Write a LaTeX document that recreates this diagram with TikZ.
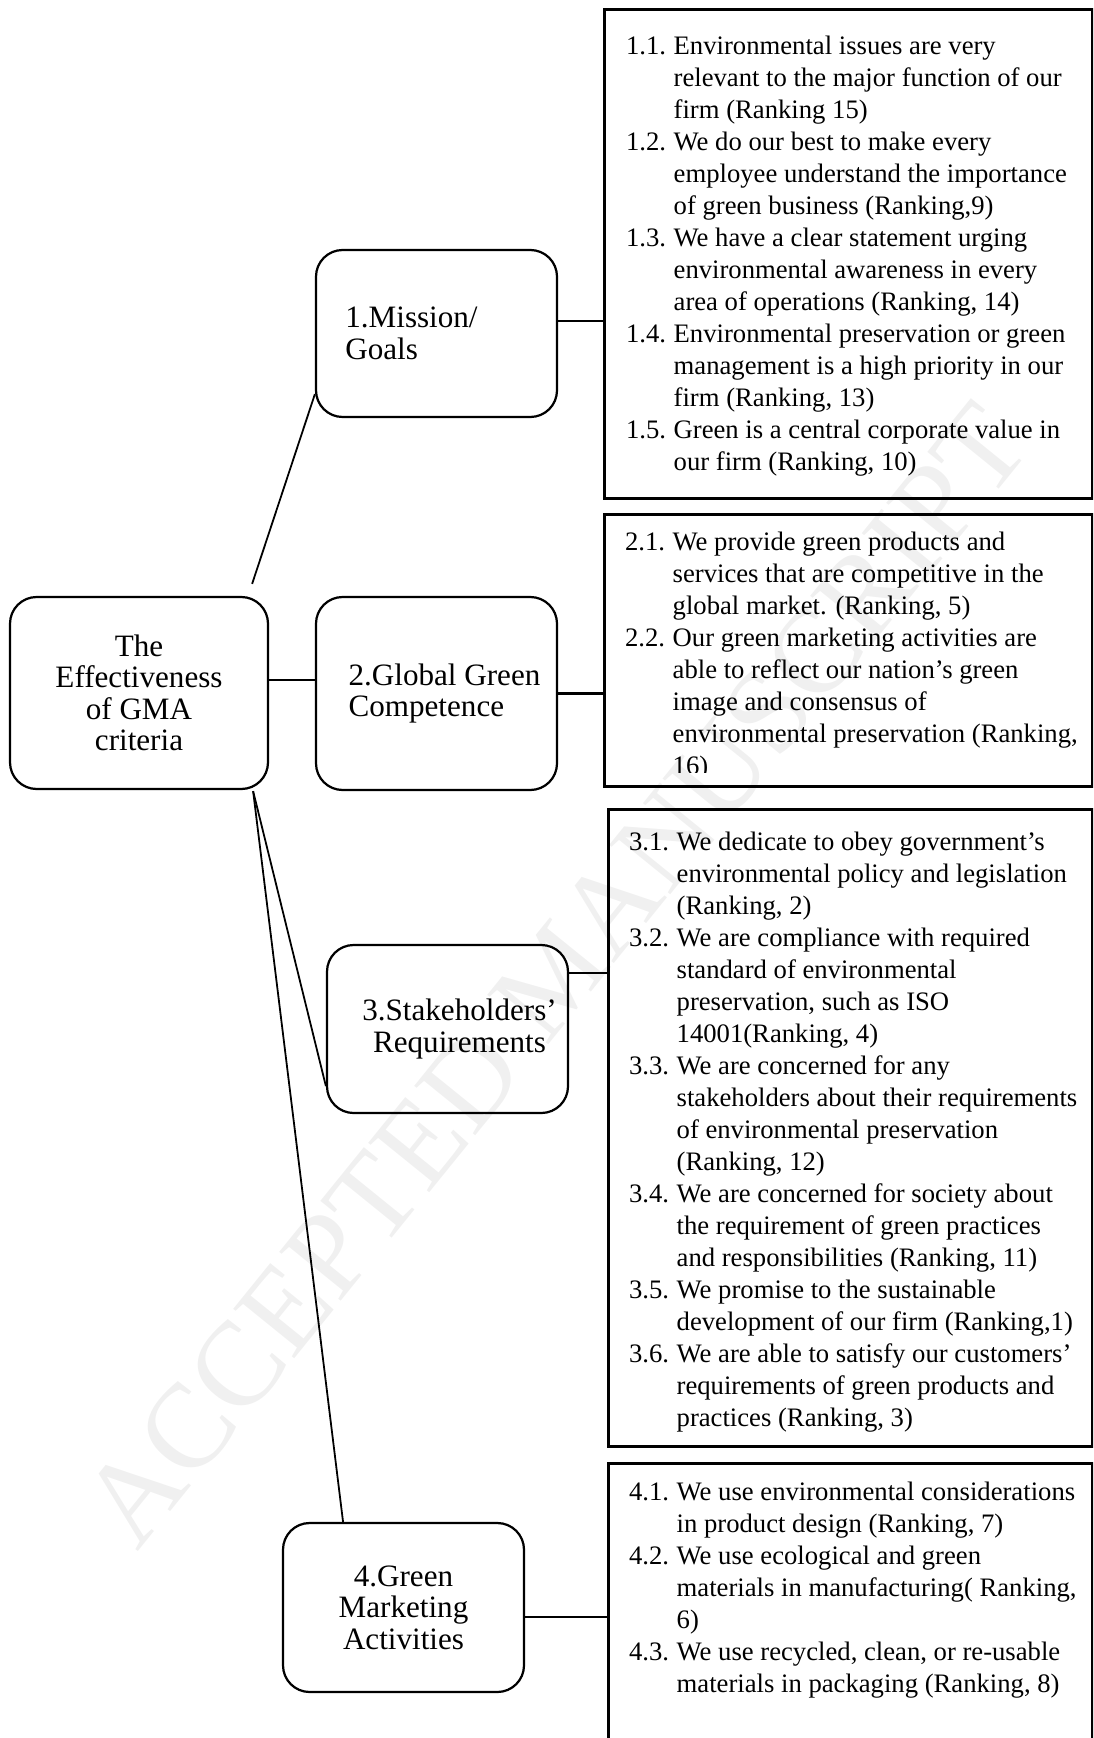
\documentclass[tikz,border=0pt]{standalone}
\usepackage{fontspec}
\setmainfont{Liberation Serif}

\newcommand{\itemno}[1]{\makebox[21.4pt][l]{#1}}

\begin{document}
\begin{tikzpicture}[x=0.45pt, y=-0.45pt, line width=1pt,
  crit/.style={draw, rounded corners=12pt, line width=1pt, minimum width=108.45pt,
    font=\fontsize{14}{14.2}\selectfont},
  listbox/.style={draw, line width=1.2pt, anchor=north west, inner sep=0pt},
  listtext/.style={anchor=base west, inner sep=0pt, font=\fontsize{12}{14.4}\selectfont},
  link/.style={line width=1.2pt},
  spoke/.style={line width=0.8pt},
  stamp/.style={text=black!6, inner sep=0pt, font=\fontsize{54}{54}\selectfont, rotate=51}]

  \useasboundingbox (0,0) rectangle (1093,1738);
  \clip (0,0) rectangle (1093,1738);

  \begin{scope}[xshift=0pt, yshift=0pt]

  \draw (555,975) node[stamp, name=wm] {ACCEPTED MANUSCRIPT};

  \draw (139,693) node[crit, name=root, minimum width=116.1pt, minimum height=86.4pt, align=center]
    {The\\Effectiveness\\of GMA\\criteria};
  \draw (436.5,333.5) node[crit, name=mission, minimum height=75.15pt, text width=82pt, align=left]
    {1.Mission/\\Goals};
  \draw (436.5,693.5) node[crit, name=global, minimum height=86.85pt, align=left]
    {\hspace*{7.2pt}2.Global Green\\\hspace*{7.2pt}Competence};
  \draw (447.5,1029) node[crit, name=stake, minimum height=75.6pt, align=center]
    {\hspace*{10.8pt}3.Stakeholders'\\\hspace*{10.8pt}Requirements};
  \draw (403.5,1607.5) node[crit, name=market, minimum height=76.05pt, align=center]
    {4.Green\\Marketing\\Activities};

  \draw (603,8) node[listbox, name=list1, minimum width=219.6pt, minimum height=220pt] {};
  \draw (603,513) node[listbox, name=list2, minimum width=219.6pt, minimum height=122.4pt] {};
  \draw (607,808) node[listbox, name=list3, minimum width=217.8pt, minimum height=286.65pt] {};
  \draw (607,1462) node[listbox, name=list4, minimum width=217.8pt, minimum height=134.1pt] {};

  \draw (625,55) node[listtext, name=items1] {\begin{tabular}[t]{@{}l@{}}
    \itemno{1.1.}Environmental issues are very\\
    \itemno{}relevant to the major function of our\\
    \itemno{}firm (Ranking 15)\\
    \itemno{1.2.}We do our best to make every\\
    \itemno{}employee understand the importance\\
    \itemno{}of green business (Ranking,9)\\
    \itemno{1.3.}We have a clear statement urging\\
    \itemno{}environmental awareness in every\\
    \itemno{}area of operations (Ranking, 14)\\
    \itemno{1.4.}Environmental preservation or green\\
    \itemno{}management is a high priority in our\\
    \itemno{}firm (Ranking, 13)\\
    \itemno{1.5.}Green is a central corporate value in\\
    \itemno{}our firm (Ranking, 10)
  \end{tabular}};

  \begin{scope}
  \clip (list2.north west) rectangle ([yshift=6.75pt]list2.south east);
  \draw (624,550) node[listtext, name=items2] {\begin{tabular}[t]{@{}l@{}}
    \itemno{2.1.}We provide green products and\\
    \itemno{}services that are competitive in the\\
    \itemno{}global market. (Ranking, 5)\\
    \itemno{2.2.}Our green marketing activities are\\
    \itemno{}able to reflect our nation's green\\
    \itemno{}image and consensus of\\
    \itemno{}environmental preservation (Ranking,\\
    \itemno{}16)
  \end{tabular}};
  \end{scope}

  \draw (628,850) node[listtext, name=items3] {\begin{tabular}[t]{@{}l@{}}
    \itemno{3.1.}We dedicate to obey government's\\
    \itemno{}environmental policy and legislation\\
    \itemno{}(Ranking, 2)\\
    \itemno{3.2.}We are compliance with required\\
    \itemno{}standard of environmental\\
    \itemno{}preservation, such as ISO\\
    \itemno{}14001(Ranking, 4)\\
    \itemno{3.3.}We are concerned for any\\
    \itemno{}stakeholders about their requirements\\
    \itemno{}of environmental preservation\\
    \itemno{}(Ranking, 12)\\
    \itemno{3.4.}We are concerned for society about\\
    \itemno{}the requirement of green practices\\
    \itemno{}and responsibilities (Ranking, 11)\\
    \itemno{3.5.}We promise to the sustainable\\
    \itemno{}development of our firm (Ranking,1)\\
    \itemno{3.6.}We are able to satisfy our customers'\\
    \itemno{}requirements of green products and\\
    \itemno{}practices (Ranking, 3)
  \end{tabular}};

  \draw (628,1500) node[listtext, name=items4] {\begin{tabular}[t]{@{}l@{}}
    \itemno{4.1.}We use environmental considerations\\
    \itemno{}in product design (Ranking, 7)\\
    \itemno{4.2.}We use ecological and green\\
    \itemno{}materials in manufacturing( Ranking,\\
    \itemno{}6)\\
    \itemno{4.3.}We use recycled, clean, or re-usable\\
    \itemno{}materials in packaging (Ranking, 8)
  \end{tabular}};

  \coordinate (j0) at ([yshift=5.85pt]root.east);
  \coordinate (j1) at ([yshift=5.6pt]mission.east);
  \coordinate (j3) at ([yshift=25.2pt]stake.east);
  \coordinate (j4) at ([yshift=-4.3pt]market.east);
  \draw[link] (j0) -- (j0 -| global.west);
  \draw[link] (j1) -- (j1 -| list1.west);
  \draw[link] (global.east) -- (global.east -| list2.west);
  \draw[link] (j3) -- (j3 -| list3.west);
  \draw[link] (j4) -- (j4 -| list4.west);

  \coordinate (roothead) at ([xshift=-7.65pt, yshift=5.4pt]root.north east);
  \coordinate (rootfoot) at ([xshift=-7.2pt, yshift=-0.45pt]root.south east);
  \draw[spoke] (roothead) -- ([yshift=10.8pt]mission.south west);
  \draw[spoke] (rootfoot) -- ([yshift=12.6pt]stake.south west);
  \draw[spoke] (rootfoot) -- ([xshift=-27.2pt]market.north);

  \end{scope}

\end{tikzpicture}
\end{document}
